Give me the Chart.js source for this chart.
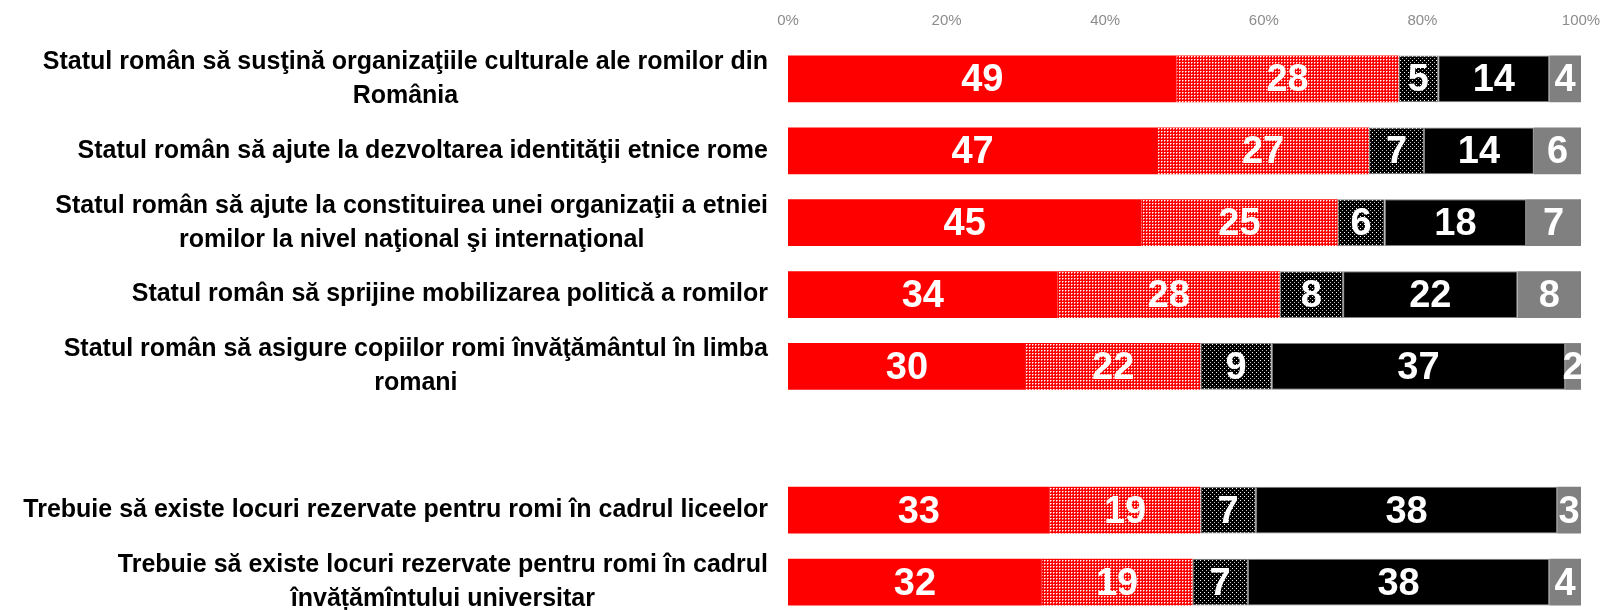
<!DOCTYPE html>
<html>
<head>
<meta charset="utf-8">
<script src="https://cdn.jsdelivr.net/npm/chart.js@4"></script>
<style>
  html, body { margin: 0; padding: 0; background: #fff; overflow: hidden; }
  #wrap { width: 1600px; height: 610px; overflow: hidden; }
  #box { width: 1600px; height: 624px; margin-top: -4px; position: relative; }
</style>
</head>
<body>
<div id="wrap"><div id="box"><canvas id="myChart"></canvas></div></div>
<script>
// categorii (randul gol separa cele doua grupuri)
const categorii = [
  ['Statul român să susţină organizaţiile culturale ale romilor din', 'România'],
  ['Statul român să ajute la dezvoltarea identităţii etnice rome'],
  ['Statul român să ajute la constituirea unei organizaţii a etniei', 'romilor la nivel naţional şi internaţional'],
  ['Statul român să sprijine mobilizarea politică a romilor'],
  ['Statul român să asigure copiilor romi învăţământul în limba', 'romani'],
  [''],
  ['Trebuie să existe locuri rezervate pentru romi în cadrul liceelor'],
  ['Trebuie să existe locuri rezervate pentru romi în cadrul', 'învățămîntului universitar']
];

const serie1 = [49, 47, 45, 34, 30, null, 33, 32];
const serie2 = [28, 27, 25, 28, 22, null, 19, 19];
const serie3 = [5, 7, 6, 8, 9, null, 7, 7];
const serie4 = [14, 14, 18, 22, 37, null, 38, 38];
const serie5 = [4, 6, 7, 8, 2, null, 3, 4];

const tickuri = [0, 20, 40, 60, 80, 100];

const toateSeriile = [serie1, serie2, serie3, serie4, serie5];
const totaluri = categorii.map((c, i) => toateSeriile.reduce((s, arr) => s + (arr[i] || 0), 0));
const procente = arr => arr.map((v, i) => v == null ? null : v / totaluri[i] * 100);

function makePattern(size, bg, dots) {
  const c = document.createElement('canvas');
  c.width = size; c.height = size;
  const g = c.getContext('2d');
  g.fillStyle = bg;
  g.fillRect(0, 0, size, size);
  dots.forEach(d => { g.fillStyle = d[2]; g.fillRect(d[0], d[1], 1, 1); });
  return g.createPattern(c, 'repeat');
}

document.addEventListener("DOMContentLoaded", () => {
  const ctx = document.getElementById('myChart');

  const rosuPunctat = makePattern(3, '#ff0000', [[0, 0, '#ffffff'], [1, 0, '#ff8a8a'], [0, 1, '#ff8a8a']]);
  const negruPunctat = makePattern(4, '#000000', [[0, 0, '#ffffff'], [2, 2, '#bdbdbd']]);

  const etichete = {
    id: 'etichete',
    afterDatasetsDraw(chart) {
      const c = chart.ctx;
      const area = chart.chartArea;
      c.save();
      c.beginPath();
      c.rect(area.left, area.top, area.right - area.left, area.bottom - area.top);
      c.clip();
      c.fillStyle = '#ffffff';
      c.font = 'bold 38px "Liberation Sans", Arial, sans-serif';
      c.textAlign = 'center';
      c.textBaseline = 'middle';
      chart.data.datasets.forEach((ds, di) => {
        const meta = chart.getDatasetMeta(di);
        meta.data.forEach((bar, i) => {
          const v = ds.valori[i];
          if (v == null) return;
          c.fillText(String(v), (bar.x + bar.base) / 2, bar.y + 2);
        });
      });
      c.restore();

      // etichetele categoriilor, centrate pe linii, aliniate la dreapta
      const y = chart.scales.y;
      c.save();
      c.fillStyle = '#000000';
      c.font = 'bold 25px "Liberation Sans Narrow", "Arial Narrow", sans-serif';
      c.textAlign = 'center';
      c.textBaseline = 'middle';
      const dreapta = 768;
      const lh = 34;
      categorii.forEach((linii, i) => {
        const cy = y.getPixelForValue(i);
        const w = Math.max(...linii.map(l => c.measureText(l).width));
        const cx = dreapta - w / 2;
        linii.forEach((l, k) => {
          c.fillText(l, cx, cy + (k - (linii.length - 1) / 2) * lh);
        });
      });
      c.restore();
    }
  };

  const serieDs = (data, fundal, bordura) => ({
    data: procente(data),
    valori: data,
    backgroundColor: fundal,
    borderColor: bordura || fundal,
    borderWidth: bordura ? 1 : 0,
    borderSkipped: false,
    barPercentage: 0.65,
    categoryPercentage: 1
  });

  new Chart(ctx, {
    type: 'bar',
    data: {
      labels: categorii.map((c, i) => 'c' + i),
      datasets: [
        serieDs(serie1, '#ff0000'),
        serieDs(serie2, rosuPunctat),
        serieDs(serie3, negruPunctat, '#7f7f7f'),
        serieDs(serie4, '#000000', '#7f7f7f'),
        serieDs(serie5, '#808080')
      ]
    },
    options: {
      indexAxis: 'y',
      responsive: true,
      maintainAspectRatio: false,
      animation: false,
      layout: { padding: { left: 788, right: 19, top: 2, bottom: 2 } },
      plugins: {
        legend: { display: false },
        tooltip: { enabled: false }
      },
      scales: {
        x: {
          position: 'top',
          stacked: true,
          min: 0,
          max: 100,
          afterBuildTicks: axis => { axis.ticks = tickuri.map(v => ({ value: v })); },
          afterFit: axis => { axis.paddingLeft = 0; axis.paddingRight = 0; },
          grid: { display: false, drawTicks: false },
          border: { display: false },
          ticks: {
            color: '#8c8c8c',
            padding: 13.5,
            maxRotation: 0,
            font: { family: '"Liberation Sans Narrow", "Arial Narrow", sans-serif', size: 15 },
            callback: v => v + '%'
          }
        },
        y: {
          stacked: true,
          display: false
        }
      }
    },
    plugins: [etichete]
  });
});
</script>
</body>
</html>
